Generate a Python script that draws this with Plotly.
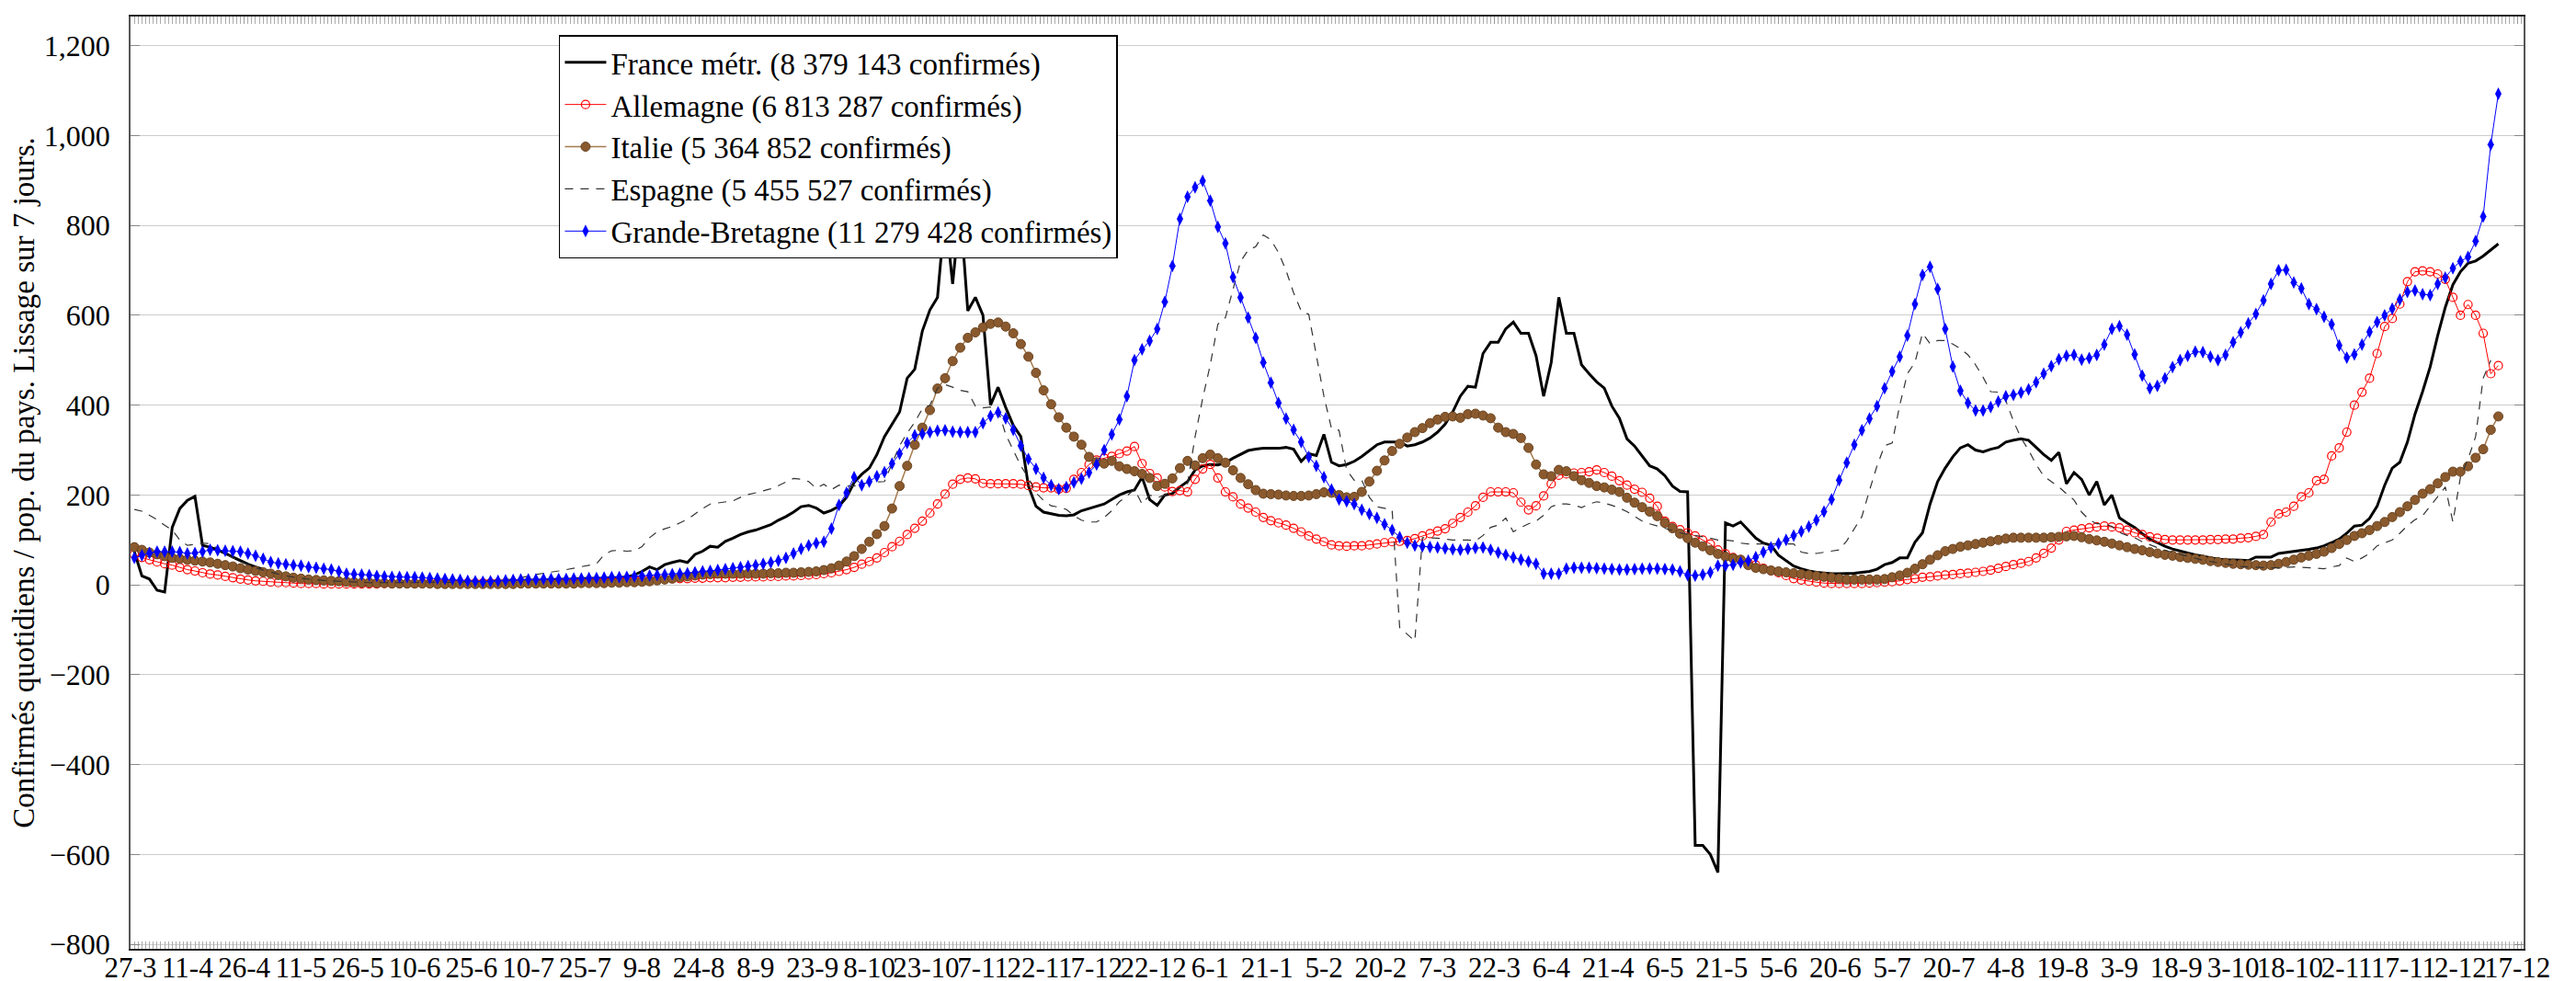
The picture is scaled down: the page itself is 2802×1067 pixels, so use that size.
import pandas as pd
import plotly.graph_objects as go

# ---- data: values every 2 days starting 28-3-2020 (per million inhabitants, 7-day smoothing)
START = "2020-03-28"
STEP = "2D"

tick_labels = ["27-3", "11-4", "26-4", "11-5", "26-5", "10-6", "25-6", "10-7", "25-7", "9-8",
               "24-8", "8-9", "23-9", "8-10", "23-10", "7-11", "22-11", "7-12", "22-12", "6-1",
               "21-1", "5-2", "20-2", "7-3", "22-3", "6-4", "21-4", "6-5", "21-5", "5-6",
               "20-6", "5-7", "20-7", "4-8", "19-8", "3-9", "18-9", "3-10", "18-10", "2-11",
               "17-11", "2-12", "17-12"]

france = [74, 20, 13, -12, -16, 128, 170, 188, 197, 88,
          84, 78, 70, 62, 53, 46, 40, 34, 29, 25,
          21, 18, 16, 14, 12, 11, 10, 9, 8, 7,
          7, 6, 6, 6, 6, 6, 6, 6, 6, 6,
          6, 7, 7, 7, 7, 7, 8, 8, 8, 9,
          9, 10, 10, 11, 11, 12, 12, 13, 13, 14,
          14, 15, 15, 16, 16, 18, 22, 30, 40, 34,
          45, 50, 54, 50, 68, 75, 86, 84, 97, 104,
          112, 118, 122, 128, 134, 144, 152, 162, 174, 177,
          171, 160, 166, 175, 195, 228, 246, 260, 290, 330,
          358, 385, 460, 480, 565, 612, 640, 830, 670, 840,
          610, 640, 600, 400, 440, 395, 355, 330, 220, 175,
          162, 158, 155, 154, 156, 165, 170, 174, 180, 190,
          200, 207, 211, 240, 190, 177, 200, 203, 218, 230,
          256, 265, 268, 267, 272, 282, 290, 299, 302, 304,
          304, 304, 306, 302, 275, 292, 288, 335, 273, 265,
          268, 275, 286, 300, 312, 318, 318, 318, 309, 312,
          318, 327, 340, 358, 385, 420, 442, 440, 515, 540,
          540, 570, 585, 560, 560, 510, 420, 495, 640, 560,
          560, 490, 470, 452, 438, 398, 371, 325, 309, 288,
          265, 258, 243, 220, 208, 207, -580, -580, -600, -640,
          138, 131, 140, 122, 104, 93, 88, 66, 54, 42,
          36, 31, 28, 26, 25, 25, 25, 26, 28, 30,
          35, 45, 50, 60, 60, 95, 116, 180, 230, 260,
          285, 305, 312, 300, 296, 302, 306, 318, 322, 325,
          322, 305, 290, 277, 295, 225, 250, 235, 200, 230,
          178, 200, 149, 138, 128, 114, 102, 94, 86, 80,
          75, 71, 67, 64, 60, 57, 56, 56, 55, 54,
          62, 62, 62, 70, 72, 75, 77, 79, 82, 87,
          94, 102, 115, 131, 133, 148, 175, 222, 260, 273,
          318, 380, 430, 485, 555, 618, 668, 697, 716, 721,
          732, 745, 759]

allemagne = [68, 61, 56, 51, 47, 44, 39, 34, 31, 27,
             24, 22, 19, 16, 13, 11, 9, 8, 6, 5,
             5, 4, 3, 3, 3, 2, 2, 2, 2, 2,
             2, 2, 2, 3, 3, 3, 3, 3, 4, 4,
             5, 5, 4, 4, 4, 4, 4, 4, 4, 4,
             5, 5, 5, 5, 5, 5, 6, 6, 7, 7,
             8, 8, 9, 9, 10, 11, 11, 12, 12, 13,
             13, 14, 14, 14, 15, 15, 16, 16, 16, 17,
             17, 18, 18, 18, 19, 19, 20, 20, 21, 22,
             23, 25, 27, 30, 34, 39, 46, 52, 60, 72,
             85, 97, 112, 126, 142, 160, 180, 202, 224, 235,
             238, 236, 226, 225, 225, 225, 225, 224, 221, 218,
             216, 216, 213, 215, 235, 250, 268, 278, 282, 286,
             292, 298, 308, 270, 248, 238, 218, 208, 210, 207,
             235, 258, 268, 238, 207, 196, 180, 171, 162, 150,
             143, 138, 133, 126, 118, 109, 102, 96, 89, 87,
             86, 87, 87, 89, 91, 94, 96, 97, 99, 103,
             109, 114, 120, 125, 137, 150, 162, 176, 195, 207,
             207, 207, 205, 184, 167, 176, 198, 225, 244, 247,
             249, 250, 252, 256, 250, 242, 232, 222, 213, 206,
             193, 175, 142, 130, 123, 116, 109, 100, 91, 78,
             69, 61, 56, 50, 44, 37, 32, 27, 21, 14,
             11, 8, 6, 4, 3, 3, 3, 3, 3, 4,
             5, 6, 7, 9, 12, 14, 17, 18, 20, 22,
             23, 25, 26, 28, 30, 33, 37, 41, 45, 48,
             52, 60, 70, 82, 100, 119, 122, 125, 127, 129,
             131, 129, 127, 122, 116, 112, 107, 104, 101, 100,
             100, 100, 100, 100, 101, 101, 102, 102, 104, 105,
             108, 112, 140, 158, 162, 175, 196, 205, 232, 235,
             287, 305, 340, 400, 429, 460, 515, 575, 593, 625,
             675, 697, 699, 697, 692, 680, 640, 600, 624, 600,
             560, 470, 488]

italie = [84, 78, 72, 68, 64, 60, 58, 56, 54, 52,
          50, 47, 44, 41, 37, 34, 31, 28, 25, 22,
          19, 16, 14, 12, 11, 10, 9, 8, 7, 6,
          5, 5, 4, 4, 3, 3, 3, 3, 3, 3,
          2, 2, 2, 2, 2, 2, 2, 2, 2, 2,
          2, 3, 3, 3, 3, 3, 3, 3, 3, 4,
          4, 4, 4, 5, 5, 6, 6, 7, 8, 10,
          12, 14, 17, 19, 21, 23, 24, 25, 25, 25,
          25, 25, 25, 25, 26, 26, 27, 27, 28, 29,
          30, 33, 37, 43, 52, 64, 80, 96, 113, 131,
          170, 220, 265, 312, 350, 389, 437, 460, 498, 528,
          550, 562, 573, 581, 584, 575, 560, 536, 508, 472,
          433, 402, 373, 350, 330, 312, 285, 273, 270, 276,
          264, 258, 253, 247, 238, 220, 225, 237, 260, 276,
          266, 282, 290, 282, 272, 255, 238, 224, 211, 203,
          202, 201, 199, 198, 198, 199, 202, 206, 205, 200,
          195, 196, 207, 230, 254, 277, 298, 314, 328, 340,
          349, 360, 368, 374, 375, 372, 380, 381, 377, 371,
          350, 340, 336, 327, 305, 268, 246, 242, 256, 253,
          242, 233, 227, 220, 217, 212, 207, 194, 183, 173,
          163, 153, 138, 126, 114, 104, 94, 86, 77, 69,
          63, 59, 56, 44, 38, 35, 32, 30, 28, 26,
          24, 22, 20, 18, 16, 14, 12, 12, 12, 12,
          12, 13, 17, 21, 27, 36, 46, 56, 66, 75,
          80, 85, 88, 91, 94, 97, 100, 103, 105, 105,
          105, 105, 105, 106, 107, 108, 109, 106, 102, 99,
          96, 92, 88, 84, 80, 77, 73, 70, 67, 65,
          62, 60, 58, 56, 53, 51, 49, 47, 46, 45,
          44, 43, 44, 47, 51, 56, 61, 65, 69, 74,
          82, 91, 100, 109, 115, 122, 131, 140, 151, 162,
          175, 189, 203, 213, 226, 240, 252, 252, 264, 283,
          302, 345, 375]

espagne = [168, 164, 155, 145, 133, 122, 100, 88, 90, 93,
           92, 80, 70, 60, 52, 45, 38, 33, 28, 24,
           20, 17, 15, 13, 11, 10, 9, 8, 7, 6,
           6, 5, 5, 5, 5, 5, 5, 5, 5, 5,
           5, 6, 6, 6, 7, 7, 8, 9, 10, 11,
           13, 16, 20, 23, 26, 28, 31, 34, 37, 41,
           44, 47, 67, 76, 77, 75, 76, 85, 105, 118,
           125, 130, 138, 146, 158, 170, 180, 182, 184, 187,
           195, 201, 205, 209, 214, 221, 229, 237, 235, 230,
           215, 224, 212, 222, 220, 220, 224, 229, 229, 230,
           270, 310, 338, 362, 392, 400, 438, 446, 440, 433,
           430, 398, 394, 396, 390, 335, 300, 265, 238, 205,
           188, 176, 173, 168, 154, 144, 140, 140, 150, 165,
           185, 198, 213, 180, 200, 194, 200, 208, 216, 225,
           330, 415, 490, 580, 595, 660, 720, 745, 753, 779,
           768, 740, 700, 650, 610, 602, 513, 420, 348, 344,
           256, 233, 233, 195, 174, 171, 167, -95, -110, -125,
           105, 105, 104, 102, 100, 100, 100, 98, 110, 128,
           133, 149, 118, 128, 136, 142, 155, 174, 180, 180,
           178, 172, 180, 185, 182, 177, 171, 163, 153, 142,
           136, 131, 125, 120, 116, 113, 110, 108, 104, 100,
           100, 98, 93, 91, 91, 91, 91, 91, 91, 91,
           73, 70, 70, 73, 75, 78, 98, 125, 152, 210,
           265, 310, 316, 400, 470, 495, 560, 537, 544, 544,
           536, 526, 512, 490, 462, 430, 429, 410, 365, 327,
           300, 268, 242, 230, 218, 203, 189, 162, 145, 136,
           136, 130, 117, 110, 105, 96, 89, 83, 77, 72,
           68, 64, 59, 55, 52, 49, 46, 43, 41, 40,
           39, 38, 38, 38, 39, 40, 39, 38, 36, 36,
           40, 43, 60, 52, 60, 70, 87, 94, 100, 115,
           132, 145, 154, 175, 196, 218, 140, 240, 280, 330,
           460, 500]

grande_bretagne = [60, 66, 71, 74, 74, 74, 73, 70, 71, 74,
                   78, 77, 76, 75, 74, 70, 65, 58, 51, 48,
                   46, 44, 43, 40, 38, 36, 34, 30, 25, 24,
                   23, 22, 20, 19, 18, 18, 17, 17, 16, 15,
                   14, 13, 12, 11, 9, 8, 7, 8, 9, 10,
                   11, 12, 12, 12, 13, 13, 13, 13, 14, 14,
                   15, 15, 16, 17, 17, 18, 19, 20, 21, 22,
                   23, 24, 25, 26, 28, 30, 31, 33, 35, 37,
                   39, 42, 44, 47, 50, 54, 60, 70, 80, 88,
                   93, 96, 125, 178, 205, 240, 222, 230, 242, 251,
                   270, 292, 316, 333, 336, 340, 343, 344, 341, 340,
                   340, 340, 360, 376, 384, 371, 345, 310, 280, 258,
                   238, 222, 213, 218, 228, 236, 250, 268, 300, 335,
                   368, 420, 500, 524, 543, 570, 630, 710, 815, 864,
                   885, 899, 855, 797, 760, 685, 640, 595, 550, 495,
                   450, 405, 370, 345, 318, 285, 265, 240, 212, 190,
                   186, 180, 167, 158, 149, 135, 122, 106, 94, 88,
                   86, 84, 83, 81, 79, 78, 80, 82, 83, 78,
                   72, 67, 61, 56, 52, 47, 25, 25, 25, 36,
                   38, 38, 38, 37, 36, 35, 34, 34, 35, 36,
                   36, 36, 35, 34, 30, 22, 21, 23, 28, 43,
                   43, 45, 50, 54, 62, 73, 83, 92, 100, 110,
                   119, 130, 144, 163, 190, 233, 272, 312, 344, 370,
                   398, 438, 475, 508, 555, 625, 690, 708, 659, 570,
                   486, 432, 405, 388, 388, 396, 408, 420, 423, 428,
                   435, 451, 470, 487, 502, 510, 512, 501, 505, 512,
                   535, 570, 576, 557, 513, 466, 438, 443, 460, 485,
                   500, 510, 519, 518, 508, 500, 512, 540, 562, 582,
                   603, 633, 670, 700, 701, 673, 660, 625, 614, 597,
                   580, 533, 506, 513, 535, 563, 585, 600, 615, 635,
                   652, 655, 647, 645, 670, 684, 705, 720, 730, 765,
                   820, 980, 1093]

names = ["France métr. (8 379 143 confirmés)",
         "Allemagne (6 813 287 confirmés)",
         "Italie (5 364 852 confirmés)",
         "Espagne (5 455 527 confirmés)",
         "Grande-Bretagne (11 279 428 confirmés)"]


def dates(values):
    return pd.date_range(START, periods=len(values), freq=STEP)


FONT = "Liberation Serif"
fig = go.Figure()

fig.add_trace(go.Scatter(x=dates(france), y=france, name=names[0], mode="lines",
                         line=dict(color="black", width=3)))
fig.add_trace(go.Scatter(x=dates(allemagne), y=allemagne, name=names[1], mode="lines+markers",
                         line=dict(color="#ff0000", width=1),
                         marker=dict(symbol="circle-open", size=9, color="#ff0000",
                                     line=dict(width=1.2, color="#ff0000"))))
fig.add_trace(go.Scatter(x=dates(italie), y=italie, name=names[2], mode="lines+markers",
                         line=dict(color="#a57a4e", width=1.5),
                         marker=dict(symbol="circle", size=10, color="#8a5a2e",
                                     line=dict(width=1, color="#6a4320"))))
fig.add_trace(go.Scatter(x=dates(espagne), y=espagne, name=names[3], mode="lines",
                         line=dict(color="#333333", width=1.2, dash="9px,8px")))
fig.add_trace(go.Scatter(x=dates(grande_bretagne), y=grande_bretagne, name=names[4],
                         mode="lines+markers",
                         line=dict(color="#0000ff", width=1),
                         marker=dict(symbol="diamond-tall", size=10, color="#0000ff",
                                     line=dict(width=0))))

tick_pos = pd.date_range("2020-03-27", periods=len(tick_labels), freq="15D")

fig.update_layout(
    width=2802, height=1067,
    margin=dict(l=134, r=65, t=10, b=43),
    paper_bgcolor="white", plot_bgcolor="white",
    font=dict(family=FONT, size=32, color="black"),
    showlegend=True,
    legend=dict(x=0.179, y=0.98, xanchor="left", yanchor="top",
                bgcolor="white", bordercolor="black", borderwidth=1.5,
                font=dict(family=FONT, size=33), itemwidth=45),
)

fig.update_xaxes(
    type="date",
    range=["2020-03-27", "2021-12-18 16:00"],
    tickmode="array", tickvals=tick_pos, ticktext=tick_labels,
    tickangle=0, ticks="inside", ticklen=8, tickcolor="#999999", tickwidth=1,
    tickfont=dict(family=FONT, size=31),
    ticklabelstandoff=-8,
    showgrid=False, zeroline=False,
    showline=True, linecolor="#222222", linewidth=1.5, mirror="allticks",
    minor=dict(dtick=86400000, tick0="2020-03-27", ticks="inside", ticklen=8,
               tickcolor="#aaaaaa", tickwidth=1, showgrid=False),
    automargin=False,
)

fig.update_yaxes(
    range=[-810, 1265],
    tickmode="array", tickvals=list(range(-800, 1201, 200)),
    tickformat=",",
    ticks="inside", ticklen=10, tickcolor="#888888",
    tickfont=dict(family=FONT, size=32),
    ticklabelstandoff=14,
    showgrid=True, gridcolor="#cccccc", gridwidth=1,
    zeroline=False,
    showline=True, linecolor="#555555", linewidth=1.5, mirror="ticks",
    title=dict(text="Confirmés quotidiens / pop. du pays. Lissage sur 7 jours.",
               font=dict(family=FONT, size=33), standoff=2),
    automargin=False,
)

fig.write_html("out.html")
